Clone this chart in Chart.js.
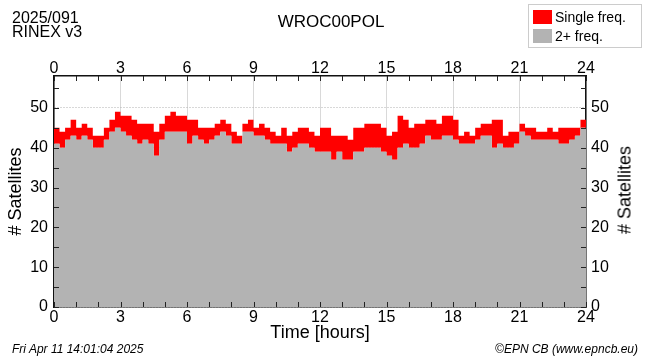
<!DOCTYPE html>
<html>
<head>
<meta charset="utf-8">
<script src="https://cdn.jsdelivr.net/npm/chart.js@4"></script>
<style>
  html, body { margin: 0; padding: 0; background: #fff; }
  #wrap { position: relative; width: 650px; height: 362px; font-family: "Liberation Sans", Arial, sans-serif; color: #000; }
  canvas { position: absolute; left: 0; top: 0; }
  .txt { position: absolute; white-space: nowrap; }
  #legend { position: absolute; left: 528px; top: 4px; width: 112px; height: 42px; border: 1px solid #ccc; background: #fff; font-size: 14px; }
  #legend .row { position: absolute; left: 4px; height: 16px; line-height: 16px; }
  #legend .sw { display: inline-block; width: 19px; height: 14px; vertical-align: -2px; margin-right: 3px; }
  #rtitle { position: absolute; left: 625px; top: 190px; font-size: 18px; transform: translate(-50%, -50%) rotate(-90deg); }
</style>
</head>
<body>
<div id="wrap">
  <canvas id="satChart" width="650" height="362"></canvas>
  <div class="txt" style="left:12px; top:11px; font-size:16px; line-height:14px;">2025/091<br>RINEX v3</div>
  <div class="txt" style="left:0; width:662px; text-align:center; top:12px; font-size:17px;">WROC00POL</div>
  <div id="legend">
    <div class="row" style="top:4px;"><span class="sw" style="background:#ff0000"></span>Single freq.</div>
    <div class="row" style="top:23px;"><span class="sw" style="background:#b3b3b3"></span>2+ freq.</div>
  </div>
  <div class="txt" id="rtitle"># Satellites</div>
  <div class="txt" style="left:12px; top:342px; font-size:12px; font-style:italic;">Fri Apr 11 14:01:04 2025</div>
  <div class="txt" style="right:12px; top:342px; font-size:12px; font-style:italic;">©EPN CB (www.epncb.eu)</div>
</div>
<script>
// total satellites (top of red band) and dual-freq satellites (top of grey), every 15 min
let totalSats = [
  44,45,44,45,47,45,46,45,43,43,45,47,49,48,48,47,
  46,46,46,44,46,48,49,48,48,47,47,45,45,45,46,47,
  46,44,43,46,47,45,46,45,44,43,45,43,44,45,45,44,
  43,45,45,43,43,43,42,45,45,46,46,46,45,43,44,48,
  47,45,46,46,47,47,46,48,48,47,43,44,43,45,46,46,
  47,47,43,44,44,46,45,45,44,44,45,44,45,45,45,45,
  47
];
let dualSats = [
  41,41,40,42,43,42,43,42,40,40,42,44,45,44,43,42,
  41,42,41,38,42,44,44,44,44,41,43,42,41,42,43,44,
  43,41,41,44,44,43,43,42,41,41,41,39,40,41,41,40,
  39,39,39,37,39,37,37,39,39,40,40,40,39,38,37,40,
  41,40,40,41,43,42,42,43,43,42,41,41,41,42,43,43,
  40,41,40,40,41,44,43,42,42,42,42,42,41,41,42,43,
  45
];
let hours = totalSats.map((_, i) => i * 0.25);
let hourTicks = [0,1,2,3,4,5,6,7,8,9,10,11,12,13,14,15,16,17,18,19,20,21,22,23,24];
let satTicks = [0,5,10,15,20,25,30,35,40,45,50,55];

Chart.defaults.font.family = '"Liberation Sans", Arial, sans-serif';
Chart.defaults.color = '#000';

const innerTicks = {
  id: 'innerTicks',
  afterDatasetsDraw(chart) {
    const { ctx, chartArea: a, scales } = chart;
    ctx.save();
    ctx.strokeStyle = '#222';
    ctx.lineWidth = 1;
    ctx.beginPath();
    for (const h of hourTicks) {
      const px = Math.round(scales.x.getPixelForValue(h)) + 0.5;
      ctx.moveTo(px, a.bottom); ctx.lineTo(px, a.bottom - 5);
      ctx.moveTo(px, a.top); ctx.lineTo(px, a.top + 5);
    }
    for (const v of satTicks) {
      const py = Math.round(scales.y.getPixelForValue(v)) + 0.5;
      ctx.moveTo(a.left, py); ctx.lineTo(a.left + 5, py);
      ctx.moveTo(a.right, py); ctx.lineTo(a.right - 5, py);
    }
    ctx.stroke();
    ctx.restore();
  }
};

const setSatTicks = (s) => { s.ticks = satTicks.map(v => ({ value: v })); };
const satLabel = (v) => (v % 10 === 0 ? v : '');

new Chart(document.getElementById('satChart'), {
  type: 'line',
  data: {
    datasets: [
      {
        label: '2+ freq.',
        data: hours.map((h, i) => ({ x: h, y: dualSats[i] })),
        backgroundColor: '#b3b3b3',
        borderWidth: 0,
        pointRadius: 0,
        stepped: 'after',
        fill: 'origin'
      },
      {
        label: 'Single freq.',
        data: hours.map((h, i) => ({ x: h, y: totalSats[i] })),
        backgroundColor: '#ff0000',
        borderWidth: 0,
        pointRadius: 0,
        stepped: 'after',
        fill: '-1'
      }
    ]
  },
  options: {
    responsive: false,
    animation: false,
    layout: { padding: { top: 58, left: 0, right: 0, bottom: 0 } },
    plugins: { legend: { display: false }, tooltip: { enabled: false } },
    scales: {
      x: {
        type: 'linear', position: 'bottom', min: 0, max: 24,
        ticks: { stepSize: 3, font: { size: 16 }, padding: 1, maxRotation: 0 },
        grid: { color: '#d9d9d9', drawTicks: false },
        border: { color: '#111', width: 1.5 },
        title: { display: true, text: 'Time [hours]', font: { size: 18 }, padding: { top: 0, bottom: 18 } },
        afterFit: (s) => { s.height = 55; }
      },
      x2: {
        type: 'linear', position: 'top', min: 0, max: 24,
        ticks: { stepSize: 3, font: { size: 16 }, padding: -2, maxRotation: 0 },
        grid: { display: false, drawTicks: false },
        border: { color: '#111', width: 1.5 },
        afterFit: (s) => { s.height = 18; }
      },
      y: {
        position: 'left', min: 0, max: 58,
        afterBuildTicks: setSatTicks,
        ticks: { callback: satLabel, font: { size: 16 }, padding: 6 },
        grid: { color: '#b0b0b0', drawTicks: false },
        border: { color: '#111', width: 1.5, dash: [1, 2] },
        title: { display: true, text: '# Satellites', font: { size: 18 }, padding: { top: 5, bottom: 0 } },
        afterFit: (s) => { s.width = 54; }
      },
      y2: {
        position: 'right', min: 0, max: 58,
        afterBuildTicks: setSatTicks,
        ticks: { callback: satLabel, font: { size: 16 }, padding: 5 },
        grid: { display: false, drawTicks: false },
        border: { color: '#111', width: 1.5 },
        afterFit: (s) => { s.width = 64; }
      }
    }
  },
  plugins: [innerTicks]
});
</script>
</body>
</html>
